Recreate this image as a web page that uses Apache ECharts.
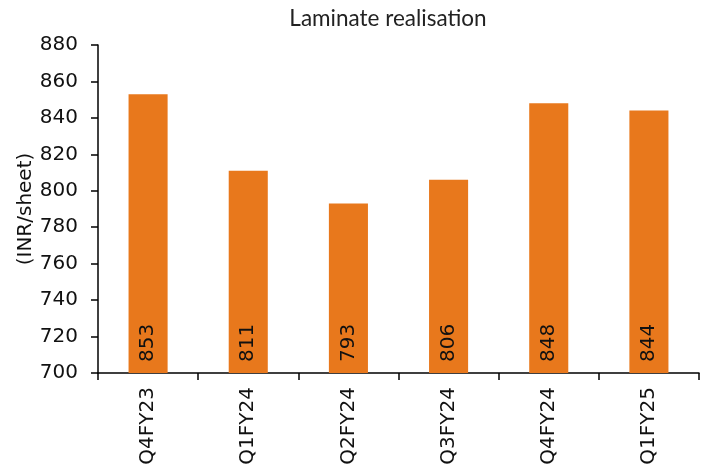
<!DOCTYPE html>
<html><head><meta charset="utf-8">
<script src="https://cdn.jsdelivr.net/npm/echarts@6/dist/echarts.min.js"></script>
<style>html,body{margin:0;padding:0;background:#fff}#c{width:707px;height:474px}</style>
</head><body><div id="c"></div>
<script>
const categories = ['Q4FY23','Q1FY24','Q2FY24','Q3FY24','Q4FY24','Q1FY25'];
const realisation = [853, 811, 793, 806, 848, 844];
const titleText = 'Laminate realisation';
const yName = '(INR/sheet)';

const chart = echarts.init(document.getElementById('c'), null, {renderer:'canvas'});
const font = 'DejaVu Sans';
chart.setOption({
  animation: false,
  title: { text: titleText, left: 383, top: 2, textAlign: 'center',
    textStyle: { fontFamily: 'Lato', fontWeight: 'normal', fontSize: 22.5, color: '#222' } },
  grid: { left: 98, right: 8, top: 45, bottom: 101, containLabel: false },
  xAxis: {
    type: 'category', data: categories,
    axisLine: { lineStyle: { color: '#000', width: 1.5 } },
    axisTick: { show: true, length: 7, alignWithLabel: false, lineStyle: { color: '#000', width: 1.5 } },
    axisLabel: { rotate: 90, margin: 14, fontFamily: font, fontSize: 20, color: '#111' }
  },
  yAxis: {
    type: 'value', min: 700, max: 880, interval: 20,
    name: yName, nameLocation: 'middle', nameGap: 62, nameRotate: 90, nameMoveOverlap: false,
    nameTextStyle: { fontFamily: font, fontSize: 20, color: '#111' },
    splitLine: { show: false },
    axisLine: { show: true, lineStyle: { color: '#000', width: 1.5 } },
    axisTick: { show: true, length: 7, lineStyle: { color: '#000', width: 1.5 } },
    axisLabel: { margin: 20, fontFamily: font, fontSize: 20, color: '#111' }
  },
  series: [{
    type: 'bar', data: realisation, barWidth: '39%',
    itemStyle: { color: '#E8781C' },
    label: { show: true, position: 'insideBottom', rotate: 90, align: 'left', verticalAlign: 'middle',
      distance: 11, fontFamily: font, fontSize: 20, color: '#111' }
  }]
});
</script></body></html>
